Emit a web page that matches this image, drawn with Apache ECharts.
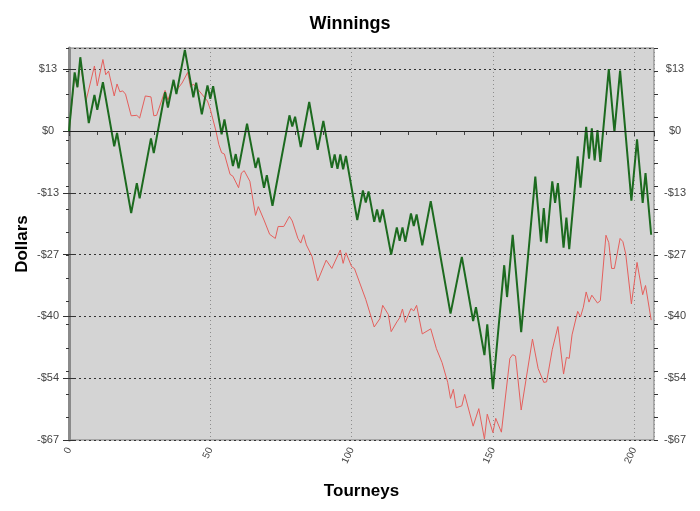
<!DOCTYPE html>
<html>
<head>
<meta charset="utf-8">
<script src="https://cdn.jsdelivr.net/npm/echarts@6/dist/echarts.min.js"></script>
<style>
  html, body { margin: 0; padding: 0; background: #ffffff; }
  #chart { width: 700px; height: 511px; }
</style>
</head>
<body>
<div id="chart"></div>
<script>
// green line: turning points (tourney, dollars)
const greenTourney = [0, 2, 3, 4, 7, 9, 10, 12, 16, 17, 22, 24, 25, 29, 30, 34, 35, 37, 38, 41,
  44, 45, 47, 49, 50, 51, 54, 55, 58, 59, 60, 63, 66, 67, 69, 70, 72, 78, 79, 80,
  82, 85, 88, 90, 93, 94, 95, 96, 97, 98, 102, 104, 105, 106, 108, 109, 110, 111, 114, 116,
  117, 118, 119, 121, 122, 123, 125, 128, 135, 139, 143, 144, 147, 148, 150, 154, 155, 157, 160, 165,
  167, 168, 169, 171, 172, 173, 175, 176, 177, 180, 181, 183, 184, 185, 186, 187, 188, 191, 193, 195,
  199, 201, 203, 204, 206];
const greenDollars = [0, 12.7, 9.5, 16.0, 1.7, 7.8, 4.6, 10.6, -3.3, -0.4, -17.8, -11.3, -14.6, -1.6, -4.8, 8.4, 5.1, 11.1, 8.0, 17.6,
  7.3, 10.5, 3.6, 9.9, 7.0, 9.7, -0.7, 2.5, -7.6, -5.0, -8.1, 1.6, -8.0, -5.8, -12.3, -9.6, -16.2, 3.4, 1.0, 3.1,
  -3.5, 6.3, -4.1, 2.2, -8.0, -5.1, -8.2, -5.1, -8.3, -5.4, -19.3, -12.9, -15.5, -13.1, -19.7, -17.0, -19.8, -17.0, -26.8, -20.9,
  -23.8, -20.9, -24.0, -17.9, -20.6, -18.1, -24.8, -15.2, -39.6, -27.3, -41.2, -38.2, -48.6, -41.9, -56.0, -29.1, -36.0, -22.5, -43.6, -9.9,
  -24.0, -16.7, -24.3, -10.9, -15.6, -11.3, -25.3, -18.8, -25.6, -5.5, -12.3, 0.9, -6.0, 0.6, -6.4, 0.2, -6.7, 13.4, -0.2, 13.1,
  -15.1, -1.8, -15.6, -9.1, -22.5];

// red line: turning points (tourney, dollars)
const redTourney = [0, 2, 3, 4, 6, 9, 10, 12, 13, 14, 16, 17, 18, 19, 20, 22, 24, 25, 27, 29,
  30, 31, 34, 35, 37, 38, 40, 42, 43, 44, 47, 49, 50, 52, 53, 54, 55, 57, 58, 60,
  61, 62, 64, 66, 67, 69, 71, 73, 74, 76, 78, 79, 81, 82, 83, 84, 86, 88, 91, 93,
  96, 97, 98, 100, 101, 105, 108, 110, 111, 113, 114, 116, 117, 118, 119, 121, 122, 123, 125, 128,
  130, 132, 134, 135, 136, 137, 139, 140, 143, 145, 147, 148, 150, 151, 153, 156, 157, 158, 160, 164,
  166, 168, 169, 171, 173, 175, 176, 177, 178, 180, 181, 182, 183, 184, 185, 187, 188, 190, 191, 192,
  193, 195, 196, 197, 199, 201, 203, 204, 206];
const redDollars = [0, 12.0, 9.5, 15.0, 6.5, 14.1, 9.8, 15.5, 12.2, 13.0, 7.6, 10.2, 8.5, 8.7, 8.0, 3.3, 3.4, 2.8, 7.6, 7.4,
  3.3, 3.4, 8.8, 6.7, 10.2, 8.8, 10.4, 12.7, 9.5, 10.2, 8.0, 6.5, 4.7, 0, -2.9, -4.7, -5.0, -9.4, -9.8, -12.3,
  -9.1, -8.6, -10.9, -18.3, -16.4, -19.3, -22.4, -23.3, -20.7, -20.7, -18.5, -19.5, -23.3, -24.3, -22.5, -24.7, -27.2, -32.5, -28.0, -29.8,
  -25.8, -28.7, -26.4, -29.4, -29.8, -36.5, -42.5, -40.7, -37.8, -39.8, -43.5, -41.4, -40.5, -38.6, -41.5, -38.5, -39.0, -37.8, -44.0, -42.9,
  -47.2, -50.2, -54.5, -58.0, -56.0, -60.0, -59.6, -57.1, -64.0, -60.2, -66.8, -61.4, -65.4, -62.3, -65.3, -49.3, -48.5, -48.8, -60.5, -45.1,
  -51.5, -54.5, -54.4, -47.4, -42.4, -52.7, -49.1, -49.3, -44.2, -39.1, -40.3, -38.2, -34.9, -37.1, -35.6, -37.3, -36.8, -22.6, -24.2, -29.8,
  -29.8, -23.3, -24.0, -26.7, -37.5, -28.5, -35.5, -33.5, -41.0];

// y tick labels, bottom to top (step 13.4 from -67)
const yLabels = ['-$67', '-$54', '-$40', '-$27', '-$13', '$0', '$13'];
const xTicks = [0, 50, 100, 150, 200];

const greenData = greenTourney.map((t, i) => [t, greenDollars[i]]);
const redData = redTourney.map((t, i) => [t, redDollars[i]]);

function yLabel(v) {
  const k = Math.round((v + 67) / 13.4);
  if (Math.abs(v - (-67 + k * 13.4)) > 0.5) return '';
  return yLabels[k] || '';
}

const labelFont = { fontFamily: 'Liberation Sans', fontSize: 11, color: '#444' };
const nameFont = { fontFamily: 'Liberation Sans', fontSize: 17, fontWeight: 'bold', color: '#000' };

let myChart = echarts.init(document.getElementById('chart'));
let option = {
  backgroundColor: '#ffffff',
  animation: false,
  title: {
    text: 'Winnings',
    left: 'center',
    top: 10,
    textStyle: { fontFamily: 'Liberation Sans', fontSize: 18, fontWeight: 'bold', color: '#000' }
  },
  grid: {
    left: 69, right: 46, top: 48, bottom: 71,
    show: true,
    backgroundColor: '#d4d4d4',
    borderColor: '#7a7a7a',
    borderWidth: 1
  },
  xAxis: [
    {
      type: 'value',
      min: 0, max: 207, interval: 50,
      name: 'Tourneys',
      nameLocation: 'middle',
      nameGap: 43,
      nameMoveOverlap: false,
      nameTextStyle: nameFont,
      axisLine: { show: true, lineStyle: { color: '#333', width: 1 } },
      axisTick: { show: true, length: 5, lineStyle: { color: '#333' } },
      minorTick: { show: true, splitNumber: 5, length: 4, lineStyle: { color: '#333' } },
      axisLabel: {
        rotate: 65, margin: 8, showMaxLabel: false,
        fontFamily: 'Liberation Sans', fontSize: 10, color: '#444',
        formatter: v => (xTicks.indexOf(v) >= 0 ? String(v) : '')
      },
      splitLine: { show: true, lineStyle: { color: '#8c8c8c', type: [1, 3], width: 1 } }
    },
    {
      type: 'value',
      position: 'top',
      min: 0, max: 207, interval: 10,
      axisLine: { show: true, lineStyle: { color: '#666', width: 1 } },
      axisTick: { show: true, inside: true, length: 4, lineStyle: { color: '#444' } },
      axisLabel: { show: false },
      splitLine: { show: false }
    }
  ],
  yAxis: [
    {
      type: 'value',
      position: 'left',
      min: -67, max: 18, interval: 13.4,
      name: 'Dollars',
      nameLocation: 'middle',
      nameGap: 38,
      nameMoveOverlap: false,
      nameRotate: 90,
      nameTextStyle: nameFont,
      axisLine: { show: true, lineStyle: { color: '#444', width: 1.5 } },
      axisTick: { show: true, length: 6, lineStyle: { color: '#333' } },
      axisLabel: Object.assign({ align: 'center', margin: 21, showMaxLabel: false, formatter: yLabel }, labelFont),
      splitLine: { show: true, lineStyle: { color: '#333', type: [2, 3], width: 1 } }
    },
    {
      type: 'value',
      position: 'right',
      min: -67, max: 18, interval: 13.4,
      axisLine: { show: true, lineStyle: { color: '#8a8a8a', width: 3 } },
      axisTick: { show: true, length: 7, lineStyle: { color: '#333' } },
      axisLabel: Object.assign({ align: 'center', margin: 21, showMaxLabel: false, formatter: yLabel }, labelFont),
      splitLine: { show: false }
    },
    {
      // small ticks every $5 on the left
      type: 'value',
      position: 'left',
      min: -67, max: 18, interval: 5,
      axisLine: { show: false },
      axisTick: { show: true, length: 3, lineStyle: { color: '#333' } },
      axisLabel: { show: false },
      splitLine: { show: false }
    },
    {
      // small ticks every $5 on the right
      type: 'value',
      position: 'right',
      min: -67, max: 18, interval: 5,
      axisLine: { show: false },
      axisTick: { show: true, length: 4, lineStyle: { color: '#333' } },
      axisLabel: { show: false },
      splitLine: { show: false }
    }
  ],
  series: [
    {
      name: 'red',
      type: 'line',
      data: redData,
      showSymbol: false,
      lineStyle: { color: '#e45f5c', width: 1 },
      itemStyle: { color: '#e45f5c' },
      z: 3,
      markLine: {
        silent: true,
        symbol: 'none',
        label: { show: false },
        lineStyle: { color: '#222', type: 'solid', width: 1 },
        data: [{ yAxis: 0 }]
      }
    },
    {
      name: 'green',
      type: 'line',
      data: greenData,
      showSymbol: false,
      lineStyle: { color: '#1c6a1f', width: 2 },
      itemStyle: { color: '#1c6a1f' },
      z: 4
    }
  ]
};
myChart.setOption(option);
window.addEventListener('resize', function() { myChart.resize() });
</script>
</body>
</html>
